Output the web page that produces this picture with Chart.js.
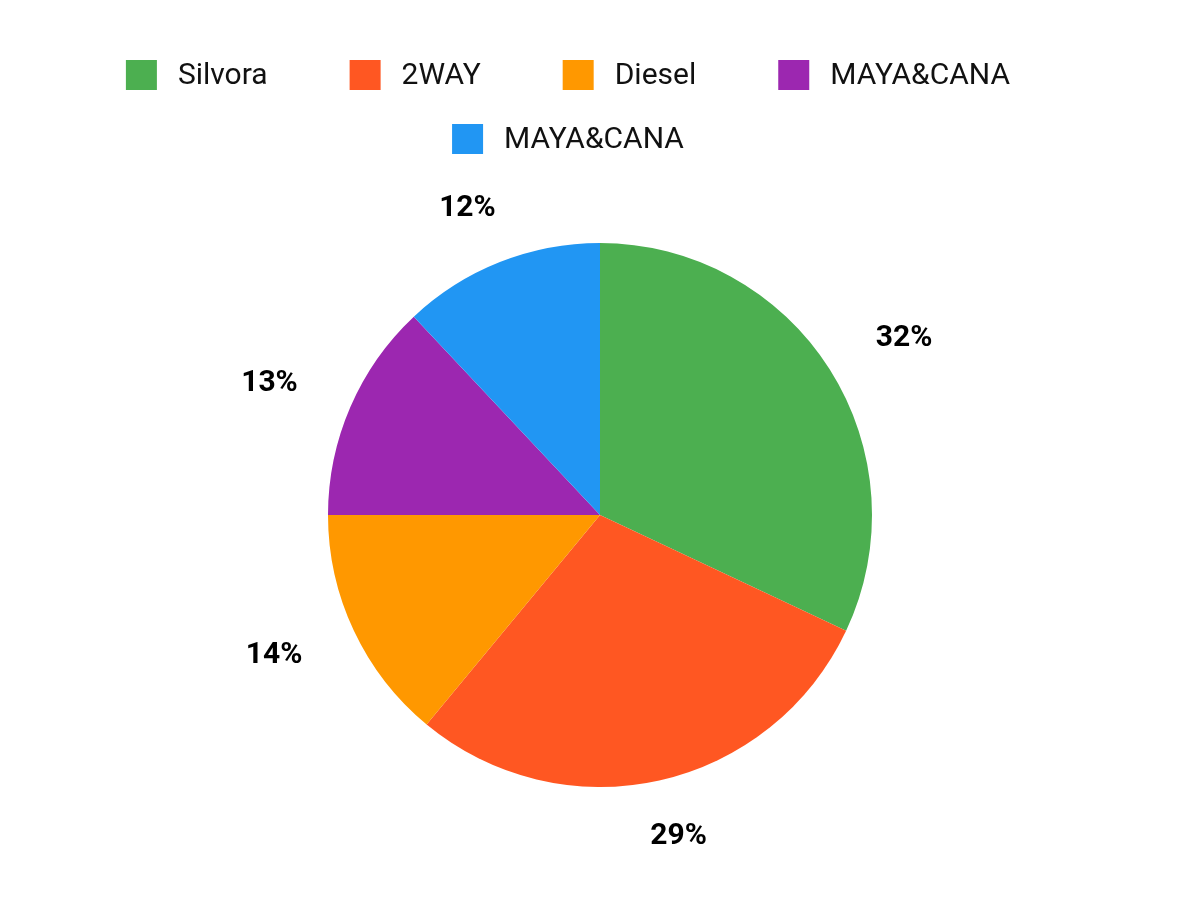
<!DOCTYPE html>
<html>
<head>
<meta charset="utf-8">
<script src="https://cdn.jsdelivr.net/npm/chart.js@4"></script>
<style>
  body { margin: 0; background: #fff; }
  #wrap { width: 1200px; height: 900px; }
</style>
</head>
<body>
<div id="wrap"><canvas id="pieChart"></canvas></div>
<script>
const labels = ["Silvora", "2WAY", "Diesel", "MAYA&CANA", "MAYA&CANA"];
const shares = [32, 29, 14, 13, 12];
const colors = ["#4CAF50", "#FF5722", "#FF9800", "#9C27B0", "#2196F3"];

//legend drawn on the canvas, rows wrap like the original
const topLegend = {
    id: "topLegend",
    afterDraw(chart) {
        const ctx = chart.ctx;
        const boxW = 31, boxH = 30, textGap = 21, itemGap = 82, maxRow = 950;
        const rowY = [75, 139];
        ctx.save();
        ctx.font = "30px Roboto";
        ctx.textBaseline = "middle";
        ctx.textAlign = "left";
        const items = labels.map((t, i) => ({ t, i, w: boxW + textGap + ctx.measureText(t).width }));
        const rows = [[]];
        let width = 0;
        items.forEach(it => {
            const add = (rows[rows.length - 1].length ? itemGap : 0) + it.w;
            if (rows[rows.length - 1].length && width + add > maxRow) {
                rows.push([it]);
                width = it.w;
            } else {
                rows[rows.length - 1].push(it);
                width += add;
            }
        });
        const cx = chart.width / 2 - 32;
        rows.forEach((row, r) => {
            const total = row.reduce((s, it) => s + it.w, 0) + itemGap * (row.length - 1);
            let x = cx - total / 2;
            const y = rowY[r];
            row.forEach(it => {
                ctx.fillStyle = colors[it.i];
                ctx.fillRect(x, y - boxH / 2, boxW, boxH);
                ctx.fillStyle = "#111";
                ctx.fillText(it.t, x + boxW + textGap, y + 1);
                x += it.w + itemGap;
            });
        });
        ctx.restore();
    }
};

//percent labels outside the slices
const outerLabels = {
    id: "outerLabels",
    afterDatasetsDraw(chart) {
        const ctx = chart.ctx;
        const meta = chart.getDatasetMeta(0);
        const data = chart.data.datasets[0].data;
        const total = data.reduce((a, b) => a + b, 0);
        ctx.save();
        ctx.font = "bold 30px Roboto";
        ctx.fillStyle = "#000";
        ctx.textAlign = "center";
        ctx.textBaseline = "middle";
        meta.data.forEach((arc, i) => {
            const p = arc.getProps(["x", "y", "startAngle", "endAngle", "outerRadius"], true);
            const mid = (p.startAngle + p.endAngle) / 2;
            const x = p.x + Math.cos(mid) * p.outerRadius * 1.324;
            const y = p.y + Math.sin(mid) * p.outerRadius * 1.213;
            ctx.fillText(Math.round(data[i] / total * 100) + "%", x, y);
        });
        ctx.restore();
    }
};

new Chart(document.getElementById("pieChart"), {
    type: "pie",
    data: {
        labels: labels,
        datasets: [{
            data: shares,
            backgroundColor: colors,
            borderWidth: 0
        }]
    },
    options: {
        responsive: true,
        maintainAspectRatio: false,
        animation: false,
        layout: { padding: { top: 243, bottom: 113 } },
        plugins: {
            legend: { display: false },
            tooltip: { enabled: false }
        }
    },
    plugins: [topLegend, outerLabels]
});
</script>
</body>
</html>
